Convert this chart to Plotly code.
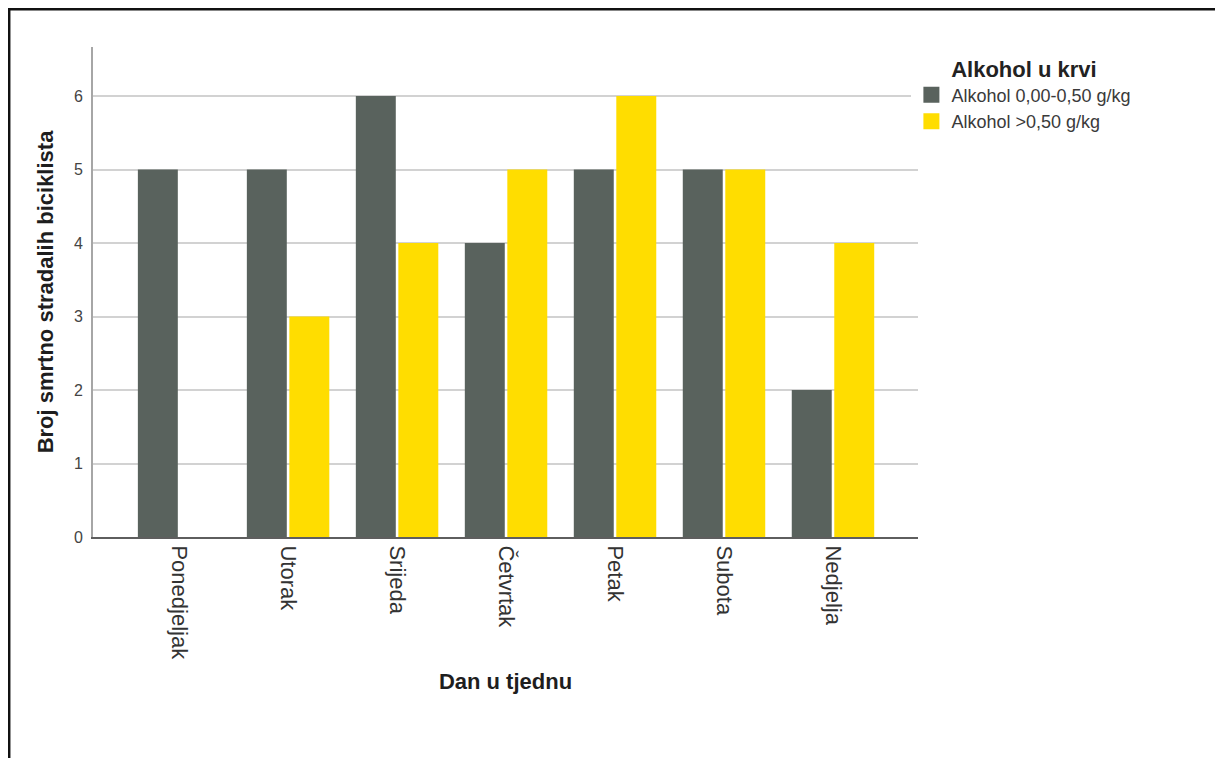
import plotly.graph_objects as go

days = ["Ponedjeljak", "Utorak", "Srijeda", "Četvrtak", "Petak", "Subota", "Nedjelja"]
low_alc = [5, 5, 6, 4, 5, 5, 2]
high_alc = [None, 3, 4, 5, 6, 5, 4]
series_names = ["Alkohol 0,00-0,50 g/kg", "Alkohol >0,50 g/kg"]
colors = ["#59625d", "#ffdd00"]
y_ticks = [0, 1, 2, 3, 4, 5, 6]

FONT = "Arial, Liberation Sans, sans-serif"

fig = go.Figure()
for name, vals, col in zip(series_names, [low_alc, high_alc], colors):
    fig.add_trace(go.Bar(x=days, y=vals, name=name, showlegend=False,
                         marker=dict(color=col, line=dict(width=0))))
# legend entries with larger square swatches
for name, col in zip(series_names, colors):
    fig.add_trace(go.Scatter(x=[None], y=[None], mode="markers", name=name,
                             marker=dict(symbol="square", size=16, color=col)))

# page offset of 8px (body margin) is subtracted from reference pixel positions
W, H = 1215, 750
L, R, T, B = 85, 910, 39, 529
fig.update_layout(
    width=W, height=H,
    margin=dict(l=L, r=W - R, t=T, b=H - B, autoexpand=False),
    paper_bgcolor="white", plot_bgcolor="white",
    barmode="group", bargap=0.22, bargroupgap=0.06,
    font=dict(family=FONT, color="#333333", size=16),
    legend=dict(
        x=0.992, y=0.998, xanchor="left", yanchor="top",
        title=dict(text="<b>Alkohol u krvi</b>", side="top center",
                   font=dict(size=22, color="#222222", family=FONT)),
        font=dict(size=18, color="#3a3a3a", family=FONT),
        tracegroupgap=0, itemwidth=30, itemsizing="trace",
    ),
    xaxis=dict(
        range=[-0.79, 6.78], tickangle=90, showgrid=False,
        showline=True, linecolor="#5e5e5e", linewidth=2,
        tickfont=dict(size=22, color="#333333"),
        ticks="", ticklabelstandoff=2,
        title=dict(text="<b>Dan u tjednu</b>", font=dict(size=22, color="#1e1e1e"), standoff=14),
    ),
    yaxis=dict(
        range=[0, 6.667], tickvals=y_ticks,
        showgrid=True, gridcolor="#d2d2d2", gridwidth=2,
        showline=True, linecolor="#a6a6a6", linewidth=2,
        zeroline=False, ticks="", ticklabelstandoff=5,
        tickfont=dict(size=16, color="#444444"),
        title=dict(text="<b>Broj smrtno stradalih biciklista</b>",
                   font=dict(size=22, color="#1e1e1e"), standoff=14),
    ),
)

# outer frame of the image
pw, ph = R - L, B - T
def px(x):
    return (x - L) / pw
def py(y):
    return (B - y) / ph
fig.add_shape(type="line", xref="paper", yref="paper", x0=px(0), x1=px(W), y0=py(1.2), y1=py(1.2),
              line=dict(color="#111111", width=2.5))
fig.add_shape(type="line", xref="paper", yref="paper", x0=px(1.2), x1=px(1.2), y0=py(0), y1=py(H),
              line=dict(color="#111111", width=2.5))

fig.write_html("out.html")
